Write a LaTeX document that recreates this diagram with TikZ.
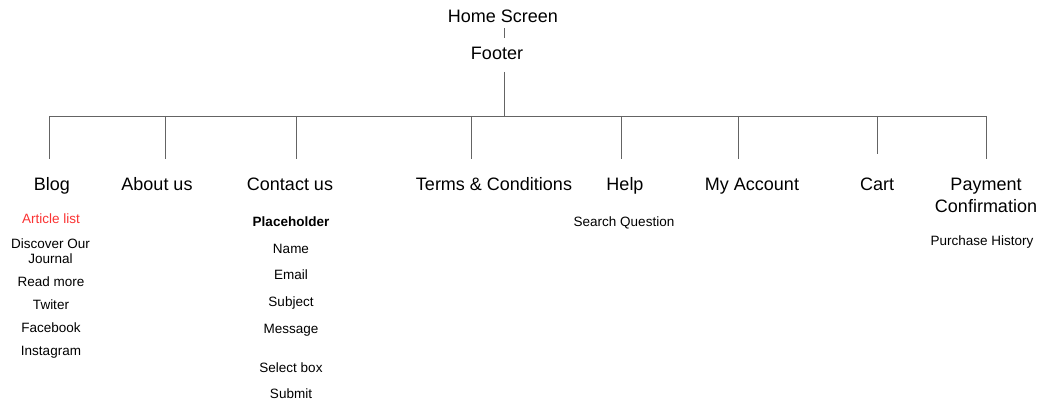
\documentclass[tikz,border=0pt]{standalone}
\usepackage{fontspec}
\setmainfont{Liberation Sans}
\definecolor{linkgray}{RGB}{100,100,100}
\definecolor{hotred}{RGB}{250,50,50}
\tikzset{
  link/.style={draw=linkgray, line width=0.9pt},
  page/.style={anchor=base, inner sep=0pt, align=center, font=\fontsize{18}{22}\selectfont},
  item/.style={anchor=base, inner sep=0pt, align=center, font=\fontsize{13.5}{15}\selectfont}
}

\begin{document}
\begin{tikzpicture}[x=1pt,y=-1pt]
  \useasboundingbox (0,0) rectangle (1043,403);
  \node[page] (home) at (503,22.5) {Home Screen};
  \node[page] (footer) at (497,59.5) {Footer};
  \coordinate (home-b) at (504,28);
  \coordinate (footer-t) at (504,38);
  \coordinate (footer-b) at (504,72);
  \coordinate (bus) at (504,116);
  \draw[link] (home-b) -- (footer-t);
  \draw[link] (footer-b) -- (bus);
  \draw[link] (49,116) coordinate (bus-l) -- (986,116) coordinate (bus-r);
  % pages under the footer (multi-line text sits on its last baseline)
  \foreach \n/\x/\bot/\lx/\ly/\txt in {blog/49/159/52/190.5/Blog, about/165/159/157/190.5/About us,
      contact/296/159/290/190.5/Contact us, terms/471/159/494/190.5/Terms \& Conditions,
      help/621/159/625/190.5/Help, account/738/159/752/190.5/My Account,
      cart/877/154/877/190.5/Cart, payment/986/159/986/212.5/Payment\\Confirmation}
  {
    \node[page] (\n) at (\lx,\ly) {\txt};
    \coordinate (\n-t) at (\x,116);
    \coordinate (\n-b) at (\x,\bot);
    \draw[link] (\n-t) -- (\n-b);
  }
  % blog
  \node[item, text=hotred] (articles) at (51,224) {Article list};
  \node[item] (journal) at (50.5,263) {Discover Our\\Journal};
  \foreach \n/\y/\txt in {readmore/286/Read more, twiter/309/Twiter, facebook/332/Facebook, instagram/355/Instagram}
    \node[item] (\n) at (51,\y) {\txt};
  % contact us
  \node[item, font=\fontsize{13.5}{15}\selectfont\bfseries] (placeholder) at (291,226) {Placeholder};
  \foreach \n/\y/\txt in {name/253/Name, email/279/Email, subject/306/Subject, message/333/Message,
      selectbox/372/Select box, submit/398/Submit}
    \node[item] (\n) at (291,\y) {\txt};
  % help and payment
  \node[item] (search) at (624,226) {Search Question};
  \node[item] (history) at (982,245) {Purchase History};
\end{tikzpicture}
\end{document}
